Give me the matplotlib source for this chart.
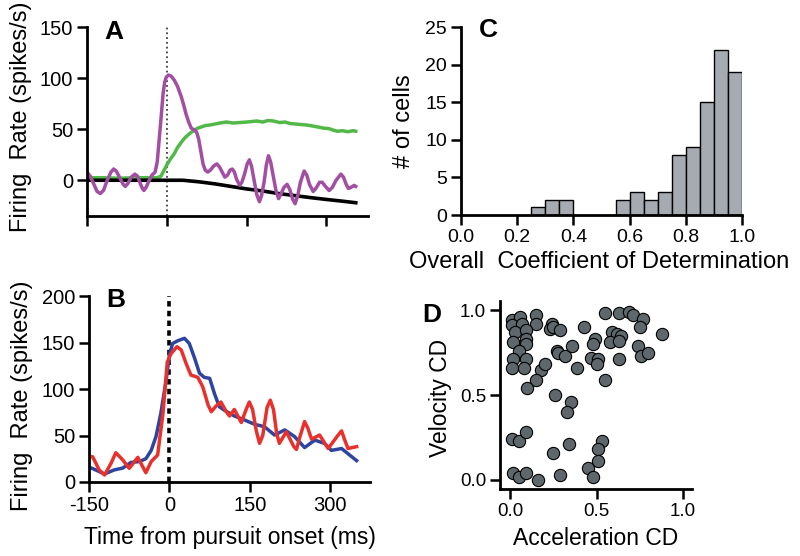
import matplotlib
matplotlib.use("Agg")
import matplotlib.pyplot as plt
import numpy as np

plt.rcParams['font.family'] = ['Liberation Sans', 'DejaVu Sans']
plt.rcParams['axes.unicode_minus'] = False

# panel A: purple, green, black traces (ms, spikes/s)
t_purple = [-150, -144, -137, -131, -125, -119, -112, -105, -100, -95, -88, -82, -78, -73, -67, -60, -55, -50,
            -46, -43, -39, -33, -28, -22, -18, -15, -11, -7, -4, -1, 3, 8, 14, 20, 27, 32, 36, 41, 46, 52,
            56, 60, 64, 68, 72, 77, 82, 88, 94, 99, 104, 109, 114, 119, 123, 127, 131, 137, 141, 146, 151,
            155, 159, 164, 169, 174, 178, 183, 187, 191, 195, 200, 205, 210, 214, 220, 226, 231, 236, 241,
            246, 251, 258, 263, 268, 275, 280, 287, 292, 298, 305, 311, 318, 327, 332, 337, 341, 346, 352, 355]
v_purple = [8, 4, -4, -11, -13, -10, 0, 8, 11, 9, 2, -4, -6, -3, 3, 6, 4, -3,
            -8, -10, -7, 0, 5, 8, 18, 36, 60, 85, 96, 101, 103, 102, 98, 92, 82, 73, 65, 57, 51, 49,
            47, 40, 28, 16, 10, 8, 10, 14, 16, 13, 8, 3, 5, 10, 11, 8, 1, -5, -2, 6, 16,
            20, 14, 0, -14, -21, -15, -1, 15, 24, 18, 4, -10, -18, -14, -7, -4, -9, -18, -23,
            -15, -2, 9, 5, -4, -11, -8, -2, -2, -6, -10, -7, 0, 6, 3, -4, -8, -7, -5, -6]

t_green = [-150, -120, -90, -60, -30, -18, -11, -5, 1, 7, 14, 20, 27, 33, 39, 46, 52, 58, 64, 72, 80, 90,
           99, 112, 125, 137, 150, 160, 169, 180, 190, 200, 212, 222, 232, 243, 253, 264, 275, 285, 295,
           305, 313, 320, 330, 340, 350, 355]
v_green = [2.5, 2.5, 2, 2.5, 2.5, 2.5, 4, 10, 16, 21, 26, 32, 37, 41, 44, 47, 49, 51, 52, 53.5, 54, 55,
           56, 57, 56, 56.5, 57, 57.5, 58, 57, 58.5, 58, 56.5, 57, 55.5, 55, 54.5, 54, 53, 52, 51,
           50.5, 49, 48, 48.5, 47.5, 48.5, 48]

t_black = [-150, 0, 30, 60, 90, 120, 150, 180, 210, 240, 270, 300, 330, 355]
v_black = [0, 0, 0, -1.5, -3.5, -6, -8.5, -10.5, -13, -15, -17, -18.8, -20.5, -22]

# panel B: blue and red traces
t_blue = [-152, -140, -121, -103, -87, -72, -56, -44, -34, -25, -16, -6, 0, 6, 16, 28, 37, 47, 56, 65,
          75, 84, 93, 103, 121, 140, 159, 177, 196, 215, 233, 252, 271, 289, 302, 321, 336, 349]
v_blue = [16.5, 13.6, 8.6, 13, 15, 21, 22, 25, 34, 49, 74, 110, 137, 149, 152, 154.5, 149, 133, 117, 112.5,
          111.5, 95, 81, 77, 71, 66.7, 62, 59.5, 50.5, 56, 49, 37, 45, 41.6, 34, 36, 29, 23]

t_red = [-152, -143, -131, -121, -109, -100, -87, -75, -59, -44, -34, -22, -12, -4, 3, 14, 22, 31, 40,
         53, 62, 72, 78, 87, 96, 106, 112, 121, 134, 143, 149, 155, 162, 168, 174, 182, 188, 194, 200,
         205, 218, 232, 237, 243, 252, 258, 265, 280, 296, 314, 321, 327, 333, 349]
v_red = [28, 27, 13, 7.5, 20, 31.5, 23.7, 14.7, 26.5, 10, 22, 29, 74, 129, 138, 145.5, 142, 127.6, 115,
         112.5, 102.5, 83, 75.6, 81.7, 86, 75.6, 71, 78, 64, 78, 86, 78, 55, 41.6, 50, 80, 88, 78, 52,
         41.6, 54, 38, 35, 48, 65, 58, 46, 50.5, 36, 50, 55, 45, 36, 38]

# panel C: histogram of overall CD
bin_left = [0.25, 0.30, 0.35, 0.55, 0.60, 0.65, 0.70, 0.75, 0.80, 0.85, 0.90, 0.95]
counts = [1, 2, 2, 2, 3, 2, 3, 8, 9, 15, 22, 19]

# panel D: acceleration CD vs velocity CD
acc_cd = [0.01, 0.06, 0.15, 0.01, 0.07, 0.15, 0.03, 0.09, 0.02, 0.09, 0.09, 0.05, 0.02, 0.09, 0.01,
          0.08, 0.18, 0.20, 0.15, 0.10, 0.24, 0.23, 0.25, 0.29, 0.27, 0.28, 0.32, 0.36, 0.39, 0.43,
          0.49, 0.48, 0.47, 0.51, 0.50, 0.55, 0.63, 0.69, 0.71, 0.77, 0.75, 0.59, 0.62, 0.64, 0.58,
          0.63, 0.88, 0.74, 0.76, 0.80, 0.63, 0.55, 0.26, 0.35, 0.33, 0.01, 0.05, 0.09, 0.25, 0.34,
          0.53, 0.51, 0.51, 0.45, 0.48, 0.29, 0.02, 0.05, 0.09, 0.16]
vel_cd = [0.94, 0.96, 0.97, 0.91, 0.92, 0.92, 0.87, 0.88, 0.81, 0.83, 0.80, 0.76, 0.71, 0.71, 0.66,
          0.66, 0.65, 0.68, 0.59, 0.54, 0.92, 0.89, 0.90, 0.88, 0.76, 0.75, 0.73, 0.79, 0.66, 0.90,
          0.83, 0.80, 0.72, 0.71, 0.68, 0.98, 0.98, 0.99, 0.97, 0.95, 0.90, 0.87, 0.86, 0.85, 0.81,
          0.82, 0.86, 0.79, 0.73, 0.75, 0.71, 0.59, 0.50, 0.46, 0.40, 0.24, 0.23, 0.28, 0.16, 0.21,
          0.23, 0.18, 0.11, 0.07, 0.02, 0.03, 0.04, 0.02, 0.04, 0.00]


def style(ax, size=14.5):
    for s in ['top', 'right']:
        ax.spines[s].set_visible(False)
    for s in ['left', 'bottom']:
        ax.spines[s].set_linewidth(2.0)
    ax.tick_params(direction='out', length=7, width=1.8, labelsize=size, pad=3)


fig = plt.figure(figsize=(8, 5.56), dpi=100)

# A
axA = fig.add_axes([0.10875, 0.6115, 0.35125, 0.3399])
axA.axvline(0, color='0.25', ls=':', lw=1.3)
axA.plot(t_green, v_green, color='#52b847', lw=2.5)
axA.plot(t_black, v_black, color='k', lw=2.6)
axA.plot(t_purple, v_purple, color='#a24ea2', lw=2.5)
axA.set_xlim(-150, 378)
axA.set_ylim(-35, 150)
axA.set_xticks([-150, 0, 150, 300])
axA.set_xticklabels([])
axA.set_yticks([0, 50, 100, 150])
style(axA)

# B
axB = fig.add_axes([0.11125, 0.1331, 0.35125, 0.3345])
axB.axvline(0, color='k', ls=(0, (1.5, 1.2)), lw=2.6)
axB.plot(t_blue, v_blue, color='#2e45a0', lw=2.5)
axB.plot(t_red, v_red, color='#e8302c', lw=2.5)
axB.set_xlim(-150, 374)
axB.set_ylim(0, 200)
axB.set_xticks([-150, 0, 150, 300])
axB.set_yticks([0, 50, 100, 150, 200])
style(axB)

# C
axC = fig.add_axes([0.57625, 0.6133, 0.35125, 0.3381])
axC.bar(bin_left, counts, width=0.05, align='edge', color='#a6aab1', edgecolor='k', lw=1.0)
axC.set_xlim(0, 1.0)
axC.set_ylim(0, 25)
axC.set_xticks(np.arange(0, 1.01, 0.2))
axC.set_xticklabels(['0.0', '0.2', '0.4', '0.6', '0.8', '1.0'])
axC.set_yticks([0, 5, 10, 15, 20, 25])
style(axC, 14)

# D
axD = fig.add_axes([0.625, 0.1205, 0.24, 0.3381])
axD.scatter(acc_cd, vel_cd, s=78, c='#5e686c', edgecolors='k', linewidths=0.8, clip_on=False, zorder=3)
axD.set_xlim(-0.058, 1.052)
axD.set_ylim(-0.053, 1.053)
axD.set_xticks([0, 0.5, 1.0])
axD.set_xticklabels(['0.0', '0.5', '1.0'])
axD.set_yticks([0, 0.5, 1.0])
axD.set_yticklabels(['0.0', '0.5', '1.0'])
style(axD, 13.5)

# labels
fig.text(0.02625, 0.7896, 'Firing  Rate (spikes/s)', rotation=90, ha='center', va='center', fontsize=17)
fig.text(0.0275, 0.2878, 'Firing  Rate (spikes/s)', rotation=90, ha='center', va='center', fontsize=17)
fig.text(0.2875, 0.034, 'Time from pursuit onset (ms)', ha='center', va='center', fontsize=16.5)
fig.text(0.749, 0.529, 'Overall  Coefficient of Determination', ha='center', va='center', fontsize=17)
fig.text(0.505, 0.782, '# of cells', rotation=90, ha='center', va='center', fontsize=17)
fig.text(0.55, 0.284, 'Velocity CD', rotation=90, ha='center', va='center', fontsize=16.5)
fig.text(0.745, 0.032, 'Acceleration CD', ha='center', va='center', fontsize=16.5)

for lab, x, y in [('A', 0.13, 0.9299), ('B', 0.1325, 0.4478), ('C', 0.599, 0.9335), ('D', 0.5275, 0.4209)]:
    fig.text(x, y, lab, ha='left', va='baseline', fontsize=19, fontweight='bold')

fig.savefig('out.png', dpi=100)
